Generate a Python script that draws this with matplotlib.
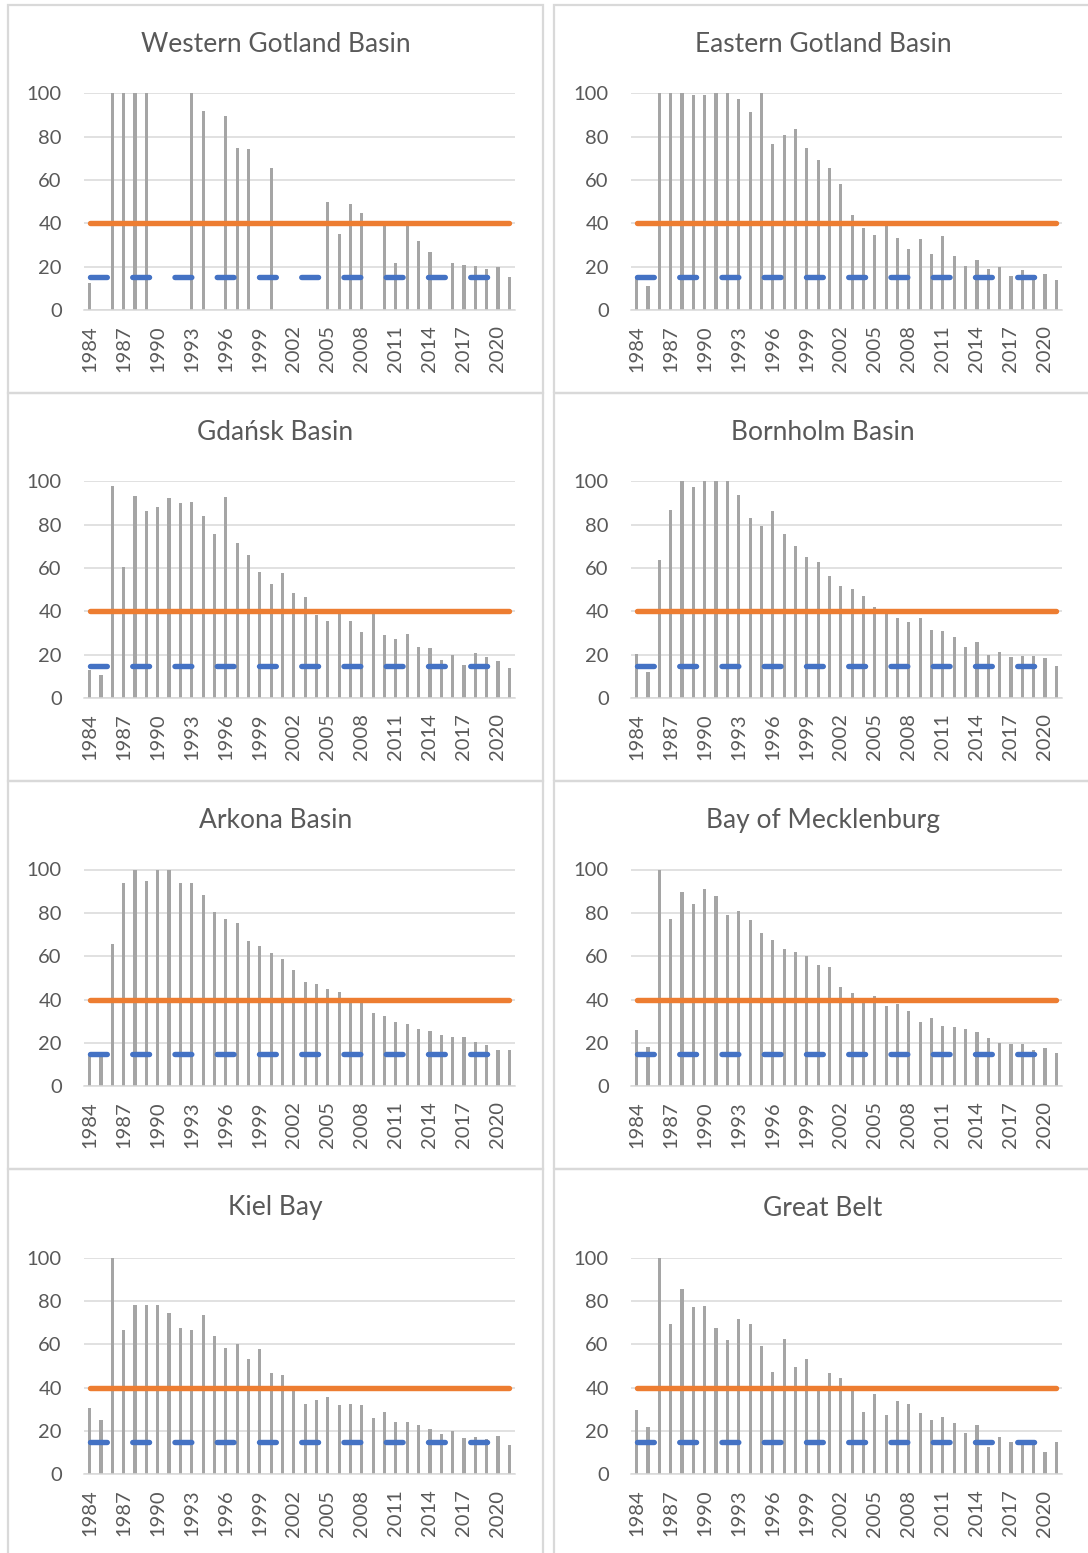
import matplotlib.pyplot as plt
from matplotlib.patches import Rectangle
import numpy as np

plt.rcParams['font.family'] = ['Lato', 'DejaVu Sans']

years = list(range(1984, 2022))
nan = np.nan

western_gotland = [12.6, nan, 100, 100, 100, 100, nan, nan, nan, 100, 91.8, nan, 89.7, 74.9, 74.3, nan,
                   65.4, nan, nan, nan, nan, 49.8, 34.9, 48.9, 44.9, nan, 38.8, 21.8, 38.8, 31.8, 26.8,
                   nan, 21.7, 20.6, 20.3, 18.9, 19.7, 15.2]
eastern_gotland = [15, 11.1, 100, 100, 100, 99.4, 99, 100, 100, 97.4, 91.2, 100, 76.5, 80.8, 83.5, 74.6,
                   69.2, 65.5, 58.2, 43.8, 37.7, 34.6, 38.8, 33.4, 28.3, 32.9, 25.7, 34.2, 24.9, 20.2,
                   23.1, 18.8, 19.8, 15.7, 18.5, 16, 16.8, 13.8]
gdansk = [12.8, 10.5, 97.8, 60.6, 93.1, 86.2, 88.2, 92.2, 90, 90.3, 84.2, 75.8, 92.8, 71.4, 66, 58.3,
          52.5, 57.7, 48.5, 46.5, 38.5, 35.8, 39, 35.4, 30.3, 39.5, 29.1, 27.5, 29.4, 23.8, 22.9,
          17.8, 19.7, 15.1, 20.6, 18.9, 16.9, 13.7]
bornholm = [20.3, 12, 63.8, 86.6, 100, 97.2, 100, 100, 100, 93.8, 82.9, 79.5, 86.5, 75.7, 70.2, 65.1,
            62.6, 56.3, 51.7, 50.5, 47.1, 42, 39, 36.9, 35.2, 36.8, 31.2, 31.1, 28.2, 23.8, 26,
            20, 21.4, 18.9, 19.5, 19.5, 18.3, 14.9]
arkona = [15, 14, 65.8, 93.7, 100, 94.6, 100, 100, 93.7, 93.7, 88.2, 80.6, 77.1, 75.5, 67.2, 64.6,
          61.4, 58.8, 53.4, 48, 47.1, 44.8, 43.5, 39, 38.5, 33.7, 32.3, 29.7, 28.9, 26.5, 25.4,
          23.5, 22.6, 22.9, 20.2, 19.1, 16.6, 16.6]
mecklenburg = [25.8, 18.3, 100, 77.1, 89.8, 84.2, 91.1, 87.8, 78.9, 80.8, 76.9, 70.6, 67.4, 63.5, 61.8,
               60, 55.8, 55.1, 46, 43.1, 39.5, 41.5, 37.2, 38, 34.5, 29.7, 31.7, 28, 27.2, 26.6,
               25.2, 22.3, 20, 19.4, 19.7, 16.6, 17.7, 15.1]
kiel = [30.5, 25.1, 100, 66.5, 78.2, 78, 78, 74.3, 67.7, 66.8, 73.4, 63.7, 58.2, 60.3, 53.4, 58,
        46.6, 45.7, 39, 32.6, 34.3, 35.8, 32.2, 32.5, 32.2, 26, 28.8, 24, 24.2, 22.6, 20.9,
        18.6, 20.2, 16.8, 17.4, 16.3, 17.8, 13.5]
great_belt = [29.7, 21.8, 100, 69.5, 85.5, 77.1, 77.7, 67.5, 62.2, 71.5, 69.2, 59.1, 47.2, 62.3, 49.5,
              53.2, 39, 46.9, 44.6, 39, 28.9, 36.9, 27.5, 33.8, 32.3, 28.2, 25.1, 26.5, 23.5, 19.1,
              22.6, 12.5, 17.4, 15.1, 15, 15, 10.2, 15.1]

titles = ['Western Gotland Basin', 'Eastern Gotland Basin', 'Gdańsk Basin', 'Bornholm Basin',
          'Arkona Basin', 'Bay of Mecklenburg', 'Kiel Bay', 'Great Belt']
series = [western_gotland, eastern_gotland, gdansk, bornholm,
          arkona, mecklenburg, kiel, great_belt]

upper_limit = 40
lower_limit = 15

W, H = 1088, 1553
fig = plt.figure(figsize=(W / 100, H / 100), dpi=100)

text_col = '#595959'
grid_col = '#d9d9d9'
x = np.arange(len(years))

for i, (title, vals) in enumerate(zip(titles, series)):
    row, col = divmod(i, 2)
    # panel frame
    bx0 = 8 if col == 0 else 554
    bx1 = 543 if col == 0 else 1096
    by0 = 5 + row * 388
    by1 = by0 + 388
    fig.patches.append(Rectangle((bx0 / W, 1 - by1 / H), (bx1 - bx0) / W, (by1 - by0) / H,
                                 transform=fig.transFigure, fill=False, ec=grid_col, lw=1.6))
    cx = 275.5 if col == 0 else 823
    fig.text(cx / W, 1 - (by0 + 39) / H, title, ha='center', va='center',
             fontsize=19, color=text_col)

    left = 84 if col == 0 else 631
    top = 93.3 + row * 388.1
    bottom = 310 + row * 388.1
    ax = fig.add_axes([left / W, 1 - bottom / H, 431 / W, (bottom - top) / H])
    ax.bar(x, vals, width=0.28, color='#a5a5a5', zorder=2)
    ax.plot(x, [upper_limit] * len(x), color='#ed7d31', lw=3.9, solid_capstyle='round', zorder=3)
    ax.plot(x, [lower_limit] * len(x), color='#4472c4', lw=3.9, dash_capstyle='round',
            linestyle=(0, (3.1, 4.7)), zorder=3)

    ax.set_xlim(-0.5, len(years) - 0.5)
    ax.set_ylim(0, 100)
    ax.set_yticks(range(0, 101, 20))
    ax.set_xticks(x[::3])
    ax.set_xticklabels([str(y) for y in years[::3]], rotation=90)
    ax.tick_params(axis='both', length=0, labelsize=14.5, colors=text_col)
    ax.tick_params(axis='y', pad=16)
    ax.tick_params(axis='x', pad=11)
    ax.grid(axis='y', color=grid_col, lw=1.1, zorder=0)
    for s in ['top', 'right', 'left']:
        ax.spines[s].set_visible(False)
    ax.spines['bottom'].set_color(grid_col)
    ax.spines['bottom'].set_linewidth(1.1)
    ax.set_axisbelow(True)

fig.savefig('out.png', dpi=100)
